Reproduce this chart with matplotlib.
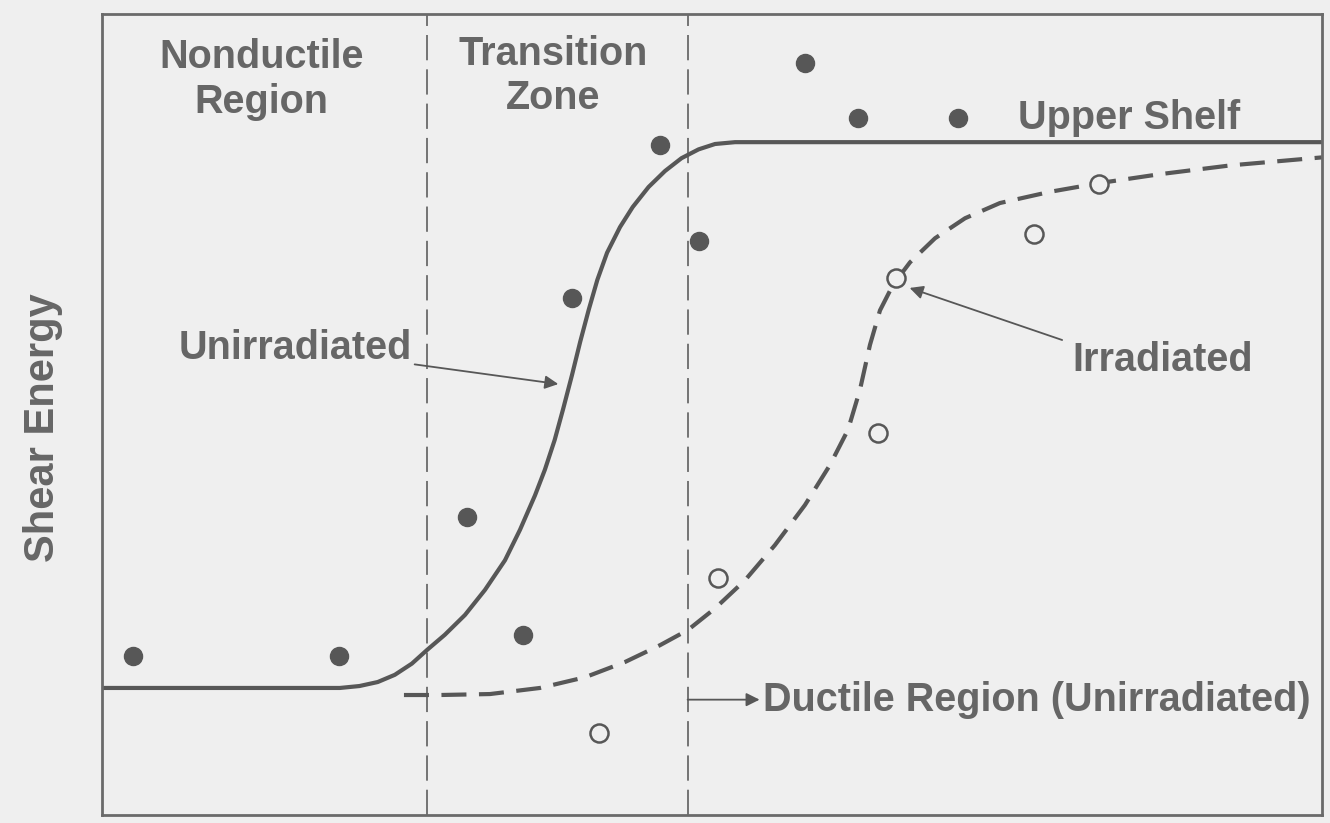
import matplotlib
matplotlib.use("Agg")
import matplotlib.pyplot as plt

# schematic Charpy curve, arbitrary units 0-100 on both axes
zone_edges = [26.6, 48.0]

unirr_x = [2.5, 19.4, 29.9, 34.5, 38.5, 45.7, 48.9, 57.6, 62.0, 70.2]
unirr_y = [19.9, 19.9, 37.2, 22.5, 64.5, 83.6, 71.7, 93.9, 87.0, 87.0]

irr_x = [40.7, 50.5, 63.6, 65.1, 76.4, 81.7]
irr_y = [10.2, 29.6, 47.7, 67.0, 72.5, 78.8]

curve_unirr_x = [0, 19.5, 21.1, 22.6, 24.0, 25.4, 26.64, 28.1, 29.75, 31.39, 33.03,
                 34.26, 35.49, 36.3, 37.1, 37.8, 38.52, 39.2, 39.9, 40.6, 41.4,
                 42.46, 43.5, 44.8, 46.15, 47.5, 48.9, 50.25, 51.89, 100]
curve_unirr_y = [15.86, 15.86, 16.1, 16.6, 17.5, 18.9, 20.6, 22.5, 24.97, 28.1, 31.8,
                 35.6, 39.9, 43.1, 46.8, 50.7, 54.9, 59.1, 63.1, 66.8, 70.2,
                 73.4, 75.9, 78.4, 80.4, 82.0, 83.1, 83.77, 84.0, 84.0]

curve_irr_x = [24.75, 27.7, 31.8, 35.9, 39.6, 42.87, 45.74, 48.03, 50.25, 52.7,
               55.16, 57.62, 59.67, 61.15, 62.13, 62.95, 63.77, 64.84, 66.23,
               68.28, 70.74, 73.6, 77.7, 81.8, 86.7, 92.5, 100]
curve_irr_y = [14.98, 14.98, 15.1, 15.86, 17.2, 19.1, 21.2, 23.1, 25.8, 29.3,
               33.7, 38.7, 43.7, 48.1, 53.1, 58.7, 63.0, 66.2, 69.0,
               72.0, 74.5, 76.4, 77.8, 78.9, 80.0, 81.1, 82.1]

ink = "#575757"
txt = "#666666"
bg = "#efefef"

plt.rcParams["font.family"] = ["Liberation Sans", "DejaVu Sans"]
plt.rcParams["font.weight"] = "bold"

fig = plt.figure(figsize=(13.3, 8.23), dpi=100, facecolor=bg)
ax = fig.add_axes([102 / 1330, 8 / 823, 1220 / 1330, 801 / 823])
ax.set_facecolor(bg)
ax.set_xlim(0, 100)
ax.set_ylim(0, 100)
ax.set_xticks([])
ax.set_yticks([])
for s in ax.spines.values():
    s.set_color("#6a6a6a")
    s.set_linewidth(2)

for xe in zone_edges:
    ax.axvline(xe, color="#6a6a6a", lw=1.3, dashes=(14, 5))

ax.plot(curve_unirr_x, curve_unirr_y, color=ink, lw=3, solid_joinstyle="round")
ax.plot(curve_irr_x, curve_irr_y, color=ink, lw=3, dashes=(6, 3))

ax.plot(unirr_x, unirr_y, "o", ms=13, color=ink, mec=ink)
ax.plot(irr_x, irr_y, "o", ms=13, mfc=bg, mec=ink, mew=1.8)

fs = 28.5
ax.text(13.1, 91.8, "Nonductile\nRegion", ha="center", va="center",
        fontsize=fs, color=txt, linespacing=1.25)
ax.text(37.0, 92.2, "Transition\nZone", ha="center", va="center",
        fontsize=fs, color=txt, linespacing=1.2)
ax.text(75.1, 87.0, "Upper Shelf", ha="left", va="center", fontsize=fs, color=txt)

ax.annotate("Unirradiated", xy=(37.4, 53.8), xytext=(25.4, 58.3),
            ha="right", va="center", fontsize=fs, color=txt,
            arrowprops=dict(arrowstyle="-|>", color=ink, lw=1.3,
                            mutation_scale=20, shrinkA=0, shrinkB=0))
ax.annotate("", xy=(66.2, 65.8), xytext=(78.7, 59.3),
            arrowprops=dict(arrowstyle="-|>", color=ink, lw=1.3,
                            mutation_scale=20, shrinkA=0, shrinkB=0))
ax.text(79.5, 56.8, "Irradiated", ha="left", va="center", fontsize=fs, color=txt)

ax.annotate("", xy=(53.9, 14.4), xytext=(48.0, 14.4),
            arrowprops=dict(arrowstyle="-|>", color=ink, lw=1.3,
                            mutation_scale=20, shrinkA=0, shrinkB=0))
ax.text(54.2, 14.4, "Ductile Region (Unirradiated)", ha="left", va="center",
        fontsize=fs, color=txt)

ax.set_ylabel("Shear Energy", fontsize=30, color=txt, fontweight="bold")
ax.yaxis.set_label_coords(-0.032, 0.484)

fig.savefig("out.png", dpi=100, facecolor=bg)
